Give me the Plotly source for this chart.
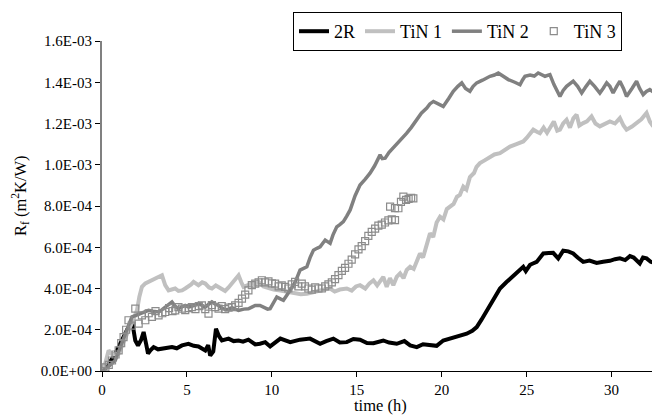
import plotly.graph_objects as go

# ---------------- data (values in units of 1e-4 m2K/W, time in h) ----------------
t_2r = [0, 0.4, 0.78, 1.1, 1.37, 1.6, 1.76, 1.96, 2.12, 2.3, 2.45, 2.6, 2.71, 2.85, 3.04, 3.3, 3.53, 3.8,
        4.12, 4.4, 4.71, 5.09, 5.4, 5.68, 6.08, 6.25, 6.37, 6.55, 6.71, 6.88, 7.06, 7.45, 7.75, 8.04, 8.3,
        8.62, 9.02, 9.3, 9.61, 9.9, 10.5, 11.08, 11.66, 12.25, 12.84, 13.2, 13.62, 14.0, 14.41, 14.8, 15.19,
        15.6, 15.98, 16.56, 16.9, 17.35, 17.8, 18.14, 18.53, 18.9, 19.31, 19.7, 20.09, 20.4, 20.68, 21.1,
        21.47, 21.8, 22.06, 22.35, 22.65, 23.0, 23.43, 23.8, 24.12, 24.5, 24.8, 24.95, 25.2, 25.59, 25.98,
        26.3, 26.56, 26.86, 27.15, 27.45, 27.74, 28.0, 28.33, 28.7, 29.12, 29.5, 29.9, 30.2, 30.49, 30.8,
        31.08, 31.3, 31.66, 31.85, 32.06, 32.3, 32.65, 32.85]
r_2r = [0, 0.35, 0.84, 1.35, 1.81, 2.2, 2.46, 1.48, 1.24, 1.5, 1.89, 1.3, 0.84, 1.0, 1.16, 1.05, 1.08, 1.14,
        1.16, 1.1, 1.24, 1.32, 1.22, 1.19, 1.0, 1.25, 0.75, 0.95, 2.05, 1.7, 1.48, 1.57, 1.45, 1.48, 1.42,
        1.52, 1.29, 1.32, 1.40, 1.19, 1.57, 1.40, 1.52, 1.57, 1.32, 1.45, 1.57, 1.38, 1.40, 1.55, 1.52,
        1.36, 1.35, 1.48, 1.38, 1.32, 1.45, 1.24, 1.16, 1.3, 1.28, 1.22, 1.48, 1.55, 1.64, 1.7,
        1.81, 1.95, 2.13, 2.5, 2.94, 3.45, 4.0, 4.3, 4.56, 4.85, 5.05, 4.85, 5.15, 5.29, 5.70,
        5.72, 5.73, 5.46, 5.83, 5.8, 5.70, 5.5, 5.29, 5.35, 5.24, 5.3, 5.34, 5.42, 5.46, 5.38,
        5.57, 5.5, 5.21, 5.5, 5.46, 5.3, 5.21, 5.35]

t_tin1 = [0, 0.2, 0.39, 0.6, 0.98, 1.3, 1.56, 1.8, 2.06, 2.2, 2.35, 2.55, 2.74, 3.0, 3.33, 3.53, 3.72, 3.92,
          4.1, 4.31, 4.5, 4.71, 4.9, 5.09, 5.25, 5.39, 5.55, 5.68, 5.9, 6.08, 6.3, 6.47, 6.7, 6.86, 7.05,
          7.25, 7.45, 7.65, 7.85, 8.04, 8.2, 8.33, 8.55, 8.82, 9.0, 9.21, 9.5, 9.8, 10.1, 10.5, 10.9, 11.3,
          11.7, 12.06, 12.4, 12.75, 13.1, 13.43, 13.7, 14.0, 14.41, 14.7, 14.95, 15.19, 15.5, 15.75, 15.98,
          16.2, 16.56, 16.76, 16.95, 17.15, 17.35, 17.55, 17.75, 17.94, 18.14, 18.35, 18.53, 18.72, 18.9,
          19.12, 19.31, 19.5, 19.7, 19.9, 20.1, 20.3, 20.49, 20.7, 20.9, 21.07, 21.27, 21.45, 21.66, 21.9,
          22.05, 22.25, 22.5, 22.84, 23.1, 23.43, 23.7, 24.02, 24.4, 24.8, 25.0, 25.2, 25.39, 25.6, 25.78,
          26.0, 26.2, 26.37, 26.6, 26.8, 26.96, 27.15, 27.35, 27.55, 27.75, 27.94, 28.1, 28.33, 28.55,
          28.82, 29.05, 29.31, 29.6, 29.9, 30.2, 30.49, 30.7, 30.88, 31.2, 31.47, 31.75, 32.06, 32.25,
          32.45, 32.6, 32.75, 32.85]
r_tin1 = [0, 0.4, 1.0, 0.8, 0.84, 1.5, 1.97, 2.4, 2.94, 3.6, 4.08, 4.25, 4.32, 4.4, 4.56, 4.64, 4.16, 3.91,
          3.95, 4.0, 3.88, 3.91, 4.0, 4.08, 4.2, 4.32, 4.2, 4.16, 4.3, 4.24, 4.05, 4.0, 4.15, 4.08, 3.95,
          3.88, 4.05, 4.24, 4.45, 4.64, 4.3, 4.08, 4.15, 4.24, 4.2, 4.32, 4.1, 4.0, 3.95, 3.9, 3.85, 3.8,
          3.72, 3.75, 3.8, 3.85, 3.95, 4.0, 3.85, 3.95, 4.0, 3.9, 4.1, 4.16, 4.0, 4.25, 4.4,
          4.15, 4.56, 4.08, 4.5, 4.16, 4.56, 4.73, 4.5, 4.9, 5.05, 4.95, 5.37, 5.70, 5.5,
          6.19, 6.67, 6.5, 7.2, 7.48, 7.35, 7.85, 7.97, 8.1, 8.45, 8.54, 8.94, 8.8, 9.4, 9.6,
          9.9, 10.08, 10.2, 10.4, 10.5, 10.56, 10.7, 10.88, 11.0, 11.13, 11.3, 11.5, 11.7, 11.6, 11.53,
          11.8, 11.55, 11.78, 12.1, 11.65, 11.7, 12.0, 12.18, 11.8, 12.25, 12.43, 11.9, 12.02, 12.1,
          12.34, 12.0, 11.86, 12.0, 12.1, 12.0, 12.26, 11.9, 11.7, 11.85, 12.02, 12.2, 12.51, 12.1,
          11.86, 12.2, 12.67, 12.0]

t_tin2 = [0, 0.3, 0.78, 1.1, 1.37, 1.6, 1.76, 2.0, 2.25, 2.5, 2.74, 3.0, 3.33, 3.5, 3.72, 3.9, 4.12, 4.3,
          4.51, 4.7, 4.9, 5.1, 5.29, 5.5, 5.68, 5.9, 6.08, 6.3, 6.47, 6.65, 6.86, 7.05, 7.25, 7.45, 7.65,
          7.85, 8.04, 8.35, 8.62, 8.82, 9.02, 9.3, 9.51, 9.75, 9.9, 10.1, 10.29, 10.5, 10.68, 10.9, 11.08,
          11.37, 11.66, 11.85, 12.06, 12.25, 12.45, 12.65, 12.84, 13.14, 13.43, 13.6, 13.82, 14.0, 14.21,
          14.4, 14.61, 14.9, 15.19, 15.5, 15.78, 16.05, 16.37, 16.5, 16.67, 16.9, 17.15, 17.5, 17.94,
          18.2, 18.53, 18.8, 19.12, 19.3, 19.51, 19.8, 20.09, 20.4, 20.68, 20.95, 21.18, 21.4, 21.66,
          21.85, 22.06, 22.4, 22.84, 23.1, 23.33, 23.6, 23.92, 24.3, 24.61, 24.75, 24.9, 25.2, 25.45,
          25.68, 25.9, 26.08, 26.37, 26.6, 26.96, 27.15, 27.35, 27.55, 27.74, 28.0, 28.24, 28.5, 28.72,
          29.0, 29.31, 29.5, 29.71, 29.9, 30.09, 30.3, 30.49, 30.7, 30.88, 31.2, 31.47, 31.65, 31.86,
          32.05, 32.25, 32.5, 32.75, 32.85]
r_tin2 = [0, 0.15, 0.51, 1.2, 1.81, 2.3, 2.62, 2.7, 2.78, 2.9, 2.94, 2.9, 2.86, 2.95, 3.10, 3.2, 3.35, 3.15,
          3.02, 3.1, 3.18, 3.1, 3.14, 3.2, 3.27, 3.15, 3.10, 3.25, 3.35, 3.25, 3.18, 3.05, 2.98, 3.0, 3.07,
          3.0, 2.94, 3.0, 3.02, 3.1, 3.18, 3.18, 3.10, 3.0, 3.02, 3.3, 3.59, 3.5, 3.43, 3.7, 3.91,
          4.3, 4.89, 4.95, 5.05, 5.5, 5.86, 5.95, 6.02, 6.35, 6.19, 6.6, 6.99, 7.1, 7.24,
          7.5, 7.81, 8.5, 9.02, 9.3, 9.59, 9.95, 10.48, 10.3, 10.32, 10.6, 10.81, 11.1, 11.53,
          11.8, 12.18, 12.5, 12.75, 12.95, 13.07, 12.95, 12.83, 13.2, 13.56, 13.8, 13.97, 13.7, 13.56,
          13.8, 13.97, 14.1, 14.29, 14.35, 14.45, 14.3, 14.13, 14.0, 13.88, 14.1, 14.29, 14.35, 14.3,
          14.45, 14.35, 14.29, 14.37, 13.9, 13.31, 13.6, 13.80, 13.95, 14.05, 13.8, 13.48, 13.8, 14.05,
          13.8, 13.48, 13.7, 13.97, 13.8, 13.48, 13.8, 14.05, 13.7, 13.31, 13.7, 14.05, 13.7, 13.40,
          13.55, 13.64, 13.5, 13.40, 13.5]

t_tin3 = [0.0, 0.2, 0.4, 0.59, 0.8, 0.98, 1.13, 1.27, 1.42, 1.56, 1.75, 1.96, 2.16, 2.35, 2.55, 2.75, 2.94,
          3.15, 3.33, 3.55, 3.72, 3.95, 4.15, 4.31, 4.5, 4.71, 4.9, 5.1, 5.29, 5.5, 5.7, 5.88, 6.08, 6.27,
          6.47, 6.66, 6.86, 7.05, 7.25, 7.45, 7.65, 7.84, 8.04, 8.24, 8.43, 8.62, 8.82, 9.02, 9.22, 9.41,
          9.6, 9.8, 10.0, 10.19, 10.4, 10.58, 10.78, 10.97, 11.17, 11.37, 11.56, 11.76, 11.95, 12.15,
          12.35, 12.55, 12.74, 12.94, 13.14, 13.33, 13.53, 13.72, 13.92, 14.12, 14.31, 14.51, 14.7, 14.9,
          15.1, 15.29, 15.49, 15.68, 15.88, 16.08, 16.27, 16.47, 16.66, 16.86, 17.06, 17.25, 16.96, 17.25,
          17.45, 17.6, 17.74, 17.9, 18.05, 18.2, 18.33]
r_tin3 = [0.0, 0.18, 0.3, 0.51, 0.8, 1.0, 1.35, 1.64, 2.0, 2.46, 2.2, 3.02, 2.30, 2.7, 2.46, 2.8, 2.62,
          2.9, 2.70, 2.8, 2.86, 3.05, 2.9, 2.94, 3.1, 3.02, 2.95, 3.05, 3.10, 3.0, 3.15, 3.18, 3.0, 2.78,
          3.2, 3.1, 3.02, 3.15, 3.0, 3.07, 3.1, 3.18, 3.3, 3.51, 3.7, 3.91, 4.16, 4.24, 4.3, 4.4,
          4.3, 4.35, 4.25, 4.24, 4.1, 4.15, 4.08, 4.0, 4.2, 4.32, 4.1, 4.24, 4.1, 4.0,
          3.95, 4.05, 4.0, 4.0, 4.1, 4.2, 4.3, 4.45, 4.65, 4.85, 5.0, 5.2, 5.4, 5.65,
          5.9, 6.05, 6.3, 6.55, 6.75, 6.9, 7.05, 7.1, 7.2, 7.3, 7.35, 7.32, 7.97, 7.9,
          7.89, 8.2, 8.45, 8.3, 8.35, 8.4, 8.37]

y_tickvals = [0, 2e-4, 4e-4, 6e-4, 8e-4, 1.0e-3, 1.2e-3, 1.4e-3, 1.6e-3]
y_ticktext = ["0.0E+00", "2.0E-04", "4.0E-04", "6.0E-04", "8.0E-04", "1.0E-03", "1.2E-03", "1.4E-03", "1.6E-03"]
x_tickvals = [0, 5, 10, 15, 20, 25, 30]

S = 1e-4
FONT = "Liberation Serif"

# the page body adds an 8 px offset; the figure is laid out to compensate
OFF = 8
W, H = 660, 416

fig = go.Figure()
fig.add_trace(go.Scatter(x=t_2r, y=[v * S for v in r_2r], mode="lines", name="2R",
                         line=dict(color="#000000", width=4)))
fig.add_trace(go.Scatter(x=t_tin1, y=[v * S for v in r_tin1], mode="lines", name="TiN 1",
                         line=dict(color="#c0c0c0", width=4)))
fig.add_trace(go.Scatter(x=t_tin2, y=[v * S for v in r_tin2], mode="lines", name="TiN 2",
                         line=dict(color="#808080", width=3.5)))
fig.add_trace(go.Scatter(x=t_tin3, y=[v * S for v in r_tin3], mode="markers", name="TiN 3",
                         marker=dict(symbol="square-open", size=7, color="#8c8c8c",
                                     line=dict(width=1.2, color="#8c8c8c"))))

fig.update_layout(
    width=W, height=H,
    margin=dict(l=102 - OFF, r=OFF, t=41 - OFF, b=H - (41 - OFF) - 330, autoexpand=False),
    paper_bgcolor="white", plot_bgcolor="white",
    font=dict(family=FONT, size=15, color="black"),
    showlegend=True,
    legend=dict(orientation="h", xref="container", yref="container",
                x=(293 - OFF) / W, y=1 - (12 - OFF) / H, xanchor="left", yanchor="top",
                bordercolor="black", borderwidth=1, bgcolor="white",
                font=dict(family=FONT, size=18, color="black"),
                itemwidth=30, tracegroupgap=0),
    xaxis=dict(range=[0, 32.85], tickvals=x_tickvals, showgrid=False, zeroline=False,
               showline=True, linecolor="black", linewidth=1.2, automargin=False,
               ticks="outside", ticklen=5, tickcolor="black", tickwidth=1,
               tickfont=dict(family=FONT, size=15)),
    yaxis=dict(range=[0, 1.6e-3], tickvals=y_tickvals, ticktext=y_ticktext,
               showgrid=False, zeroline=False, automargin=False,
               showline=True, linecolor="#808080", linewidth=2,
               ticks="outside", ticklen=5, tickcolor="black", tickwidth=1,
               tickfont=dict(family=FONT, size=15)),
    annotations=[
        dict(text="R<sub>f</sub> (m<sup>2</sup>K/W)", textangle=-90,
             xref="paper", yref="paper", x=(20 - 102) / 558, y=0.53,
             xanchor="center", yanchor="middle", showarrow=False,
             font=dict(family=FONT, size=16.5)),
        dict(text="time (h)", xref="paper", yref="paper",
             x=(380 - 102) / 558, y=(370.5 - 405) / 330,
             xanchor="center", yanchor="middle", showarrow=False,
             font=dict(family=FONT, size=16.5)),
    ],
)

fig.write_html("out.html")
